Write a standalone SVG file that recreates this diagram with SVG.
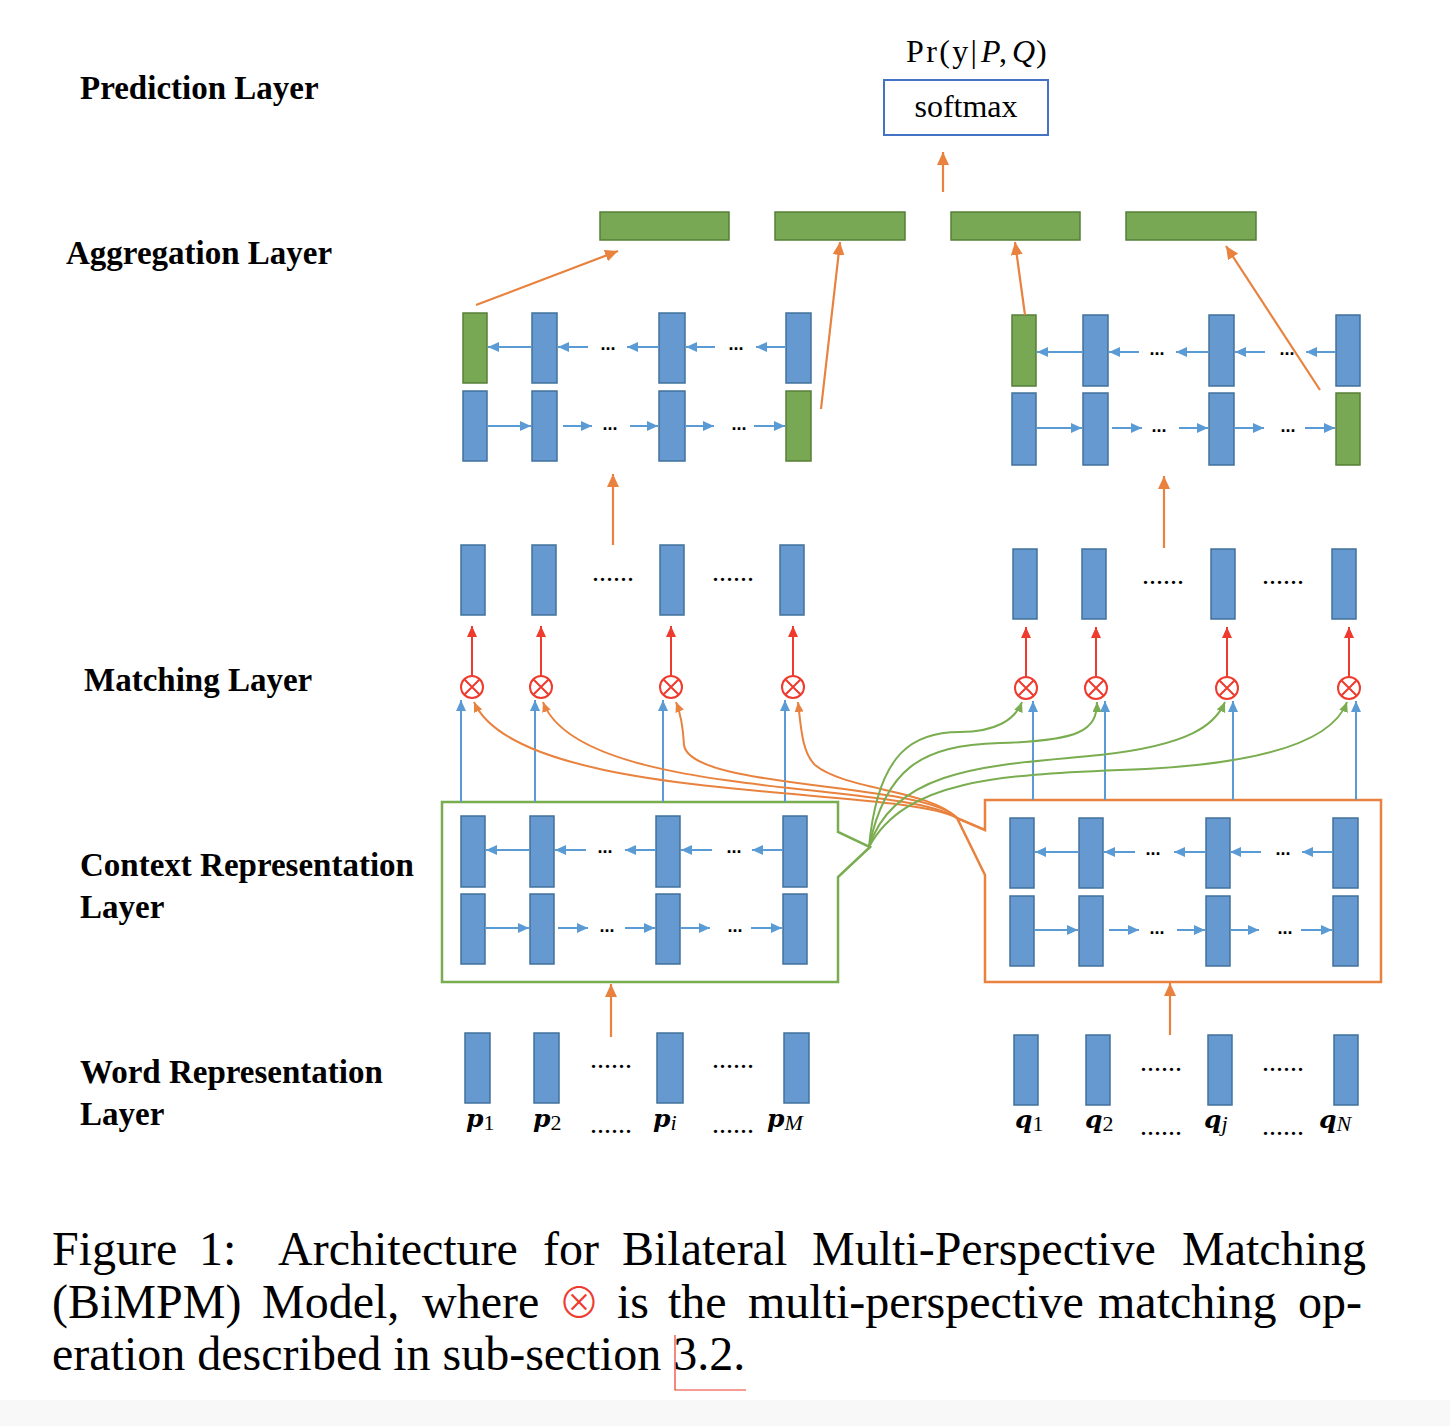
<svg xmlns="http://www.w3.org/2000/svg" width="1450" height="1426" viewBox="0 0 1450 1426">
<style>
.lbl{font-family:"Liberation Serif",serif;font-weight:bold;font-size:33px;fill:#000}
.cap{font-family:"Liberation Serif",serif;font-size:48px;fill:#000}
.tx{font-family:"Liberation Serif",serif;font-size:32px;fill:#000}
.bb{fill:#6699cf;stroke:#41719c;stroke-width:1.5}
.gb{fill:#79a854;stroke:#557f37;stroke-width:1.5}
.ba{stroke:#5b9bd5;stroke-width:2;fill:none;marker-end:url(#mb)}
.oa{stroke:#e8823e;stroke-width:2.2;fill:none;marker-end:url(#mo)}
.oc{stroke:#e8823e;stroke-width:2;fill:none;marker-end:url(#mos)}
.gc{stroke:#79ad4f;stroke-width:2;fill:none;marker-end:url(#mgs)}
.ra{stroke:#ee3b2e;stroke-width:2;fill:none;marker-end:url(#mr)}
.op circle{fill:#fff;stroke:#ee3b2e;stroke-width:2}
.op path{stroke:#ee3b2e;stroke-width:2;fill:none}
.d3{font-family:"Liberation Sans",sans-serif;font-weight:bold;font-size:18px;fill:#000;text-anchor:middle}
.d6{font-family:"Liberation Serif",serif;font-size:28px;fill:#000}
.pv{font-family:"DejaVu Serif",serif;font-weight:bold;font-style:italic;font-size:25px;fill:#000}
.sb{font-family:"Liberation Serif",serif;font-size:22px;font-weight:normal;font-style:normal}
.si{font-family:"Liberation Serif",serif;font-size:22px;font-weight:normal;font-style:italic}
</style>
<defs>
<marker id="mb" markerUnits="userSpaceOnUse" markerWidth="11" markerHeight="10" refX="11" refY="5" orient="auto"><path d="M0,0 L11,5 L0,10 z" fill="#5b9bd5"/></marker>
<marker id="mo" markerUnits="userSpaceOnUse" markerWidth="13" markerHeight="12" refX="13" refY="6" orient="auto"><path d="M0,0 L13,6 L0,12 z" fill="#e8823e"/></marker>
<marker id="mos" markerUnits="userSpaceOnUse" markerWidth="10" markerHeight="9" refX="10" refY="4.5" orient="auto"><path d="M0,0 L10,4.5 L0,9 z" fill="#e8823e"/></marker>
<marker id="mgs" markerUnits="userSpaceOnUse" markerWidth="10" markerHeight="9" refX="10" refY="4.5" orient="auto"><path d="M0,0 L10,4.5 L0,9 z" fill="#79ad4f"/></marker>
<marker id="mr" markerUnits="userSpaceOnUse" markerWidth="11" markerHeight="10" refX="11" refY="5" orient="auto"><path d="M0,0 L11,5 L0,10 z" fill="#ee3b2e"/></marker>
</defs>
<rect width="1450" height="1426" fill="#fff"/>
<rect x="0" y="1400" width="1450" height="26" fill="#f8f8f8"/>

<g id="layer-labels">
<text class="lbl" x="80" y="99">Prediction Layer</text>
<text class="lbl" x="66" y="264">Aggregation Layer</text>
<text class="lbl" x="84" y="691">Matching Layer</text>
<text class="lbl" x="80" y="876">Context Representation</text>
<text class="lbl" x="80" y="918">Layer</text>
<text class="lbl" x="80" y="1083">Word Representation</text>
<text class="lbl" x="80" y="1125">Layer</text>
</g>

<g id="prediction">
<text class="tx" x="906" y="62"><tspan textLength="71" lengthAdjust="spacing">Pr(y|</tspan><tspan x="981" font-style="italic">P</tspan><tspan x="999">,</tspan><tspan x="1012" font-style="italic">Q</tspan><tspan x="1036">)</tspan></text>
<rect x="884" y="80" width="164" height="55" fill="#fff" stroke="#4472c4" stroke-width="2"/>
<text class="tx" x="966" y="117" text-anchor="middle">softmax</text>
</g>

<g id="aggregation-bars">
<rect class="gb" x="600" y="212" width="129" height="28"/>
<rect class="gb" x="775" y="212" width="130" height="28"/>
<rect class="gb" x="951" y="212" width="129" height="28"/>
<rect class="gb" x="1126" y="212" width="130" height="28"/>
</g>

<g id="agg-p">
<rect class="gb" x="463" y="313" width="24" height="70"/>
<rect class="bb" x="532" y="313" width="25" height="70"/>
<rect class="bb" x="659" y="313" width="26" height="70"/>
<rect class="bb" x="786" y="313" width="25" height="70"/>
<rect class="bb" x="463" y="391" width="24" height="70"/>
<rect class="bb" x="532" y="391" width="25" height="70"/>
<rect class="bb" x="659" y="391" width="26" height="70"/>
<rect class="gb" x="786" y="391" width="25" height="70"/>
<line class="ba" x1="532" y1="347" x2="488" y2="347"/>
<line class="ba" x1="588" y1="347" x2="558" y2="347"/>
<line class="ba" x1="659" y1="347" x2="627" y2="347"/>
<line class="ba" x1="715" y1="347" x2="686" y2="347"/>
<line class="ba" x1="786" y1="347" x2="756" y2="347"/>
<text class="d3" x="608" y="350">...</text>
<text class="d3" x="736" y="350">...</text>
<line class="ba" x1="487" y1="426" x2="531" y2="426"/>
<line class="ba" x1="563" y1="426" x2="592" y2="426"/>
<line class="ba" x1="630" y1="426" x2="658" y2="426"/>
<line class="ba" x1="685" y1="426" x2="714" y2="426"/>
<line class="ba" x1="754" y1="426" x2="785" y2="426"/>
<text class="d3" x="610" y="430">...</text>
<text class="d3" x="739" y="430">...</text>
</g>

<g id="agg-q">
<rect class="gb" x="1012" y="315" width="24" height="71"/>
<rect class="bb" x="1083" y="315" width="25" height="71"/>
<rect class="bb" x="1209" y="315" width="25" height="71"/>
<rect class="bb" x="1336" y="315" width="24" height="71"/>
<rect class="bb" x="1012" y="393" width="24" height="72"/>
<rect class="bb" x="1083" y="393" width="25" height="72"/>
<rect class="bb" x="1209" y="393" width="25" height="72"/>
<rect class="gb" x="1336" y="393" width="24" height="72"/>
<line class="ba" x1="1083" y1="352" x2="1037" y2="352"/>
<line class="ba" x1="1139" y1="352" x2="1109" y2="352"/>
<line class="ba" x1="1209" y1="352" x2="1176" y2="352"/>
<line class="ba" x1="1265" y1="352" x2="1235" y2="352"/>
<line class="ba" x1="1336" y1="352" x2="1306" y2="352"/>
<text class="d3" x="1157" y="355">...</text>
<text class="d3" x="1287" y="355">...</text>
<line class="ba" x1="1036" y1="428" x2="1082" y2="428"/>
<line class="ba" x1="1112" y1="428" x2="1142" y2="428"/>
<line class="ba" x1="1179" y1="428" x2="1208" y2="428"/>
<line class="ba" x1="1234" y1="428" x2="1264" y2="428"/>
<line class="ba" x1="1305" y1="428" x2="1335" y2="428"/>
<text class="d3" x="1159" y="432">...</text>
<text class="d3" x="1288" y="432">...</text>
</g>

<g id="match-out-p">
<rect class="bb" x="461" y="545" width="24" height="70"/>
<rect class="bb" x="532" y="545" width="24" height="70"/>
<rect class="bb" x="660" y="545" width="24" height="70"/>
<rect class="bb" x="780" y="545" width="24" height="70"/>
<text class="d6" x="592" y="581">......</text>
<text class="d6" x="712" y="581">......</text>
</g>

<g id="match-out-q">
<rect class="bb" x="1013" y="549" width="24" height="70"/>
<rect class="bb" x="1082" y="549" width="24" height="70"/>
<rect class="bb" x="1211" y="549" width="24" height="70"/>
<rect class="bb" x="1332" y="549" width="24" height="70"/>
<text class="d6" x="1142" y="584">......</text>
<text class="d6" x="1262" y="584">......</text>
</g>

<g id="match-ops" class="op">
<circle cx="472" cy="687" r="11"/><path d="M464.5,679.5 L479.5,694.5 M479.5,679.5 L464.5,694.5"/>
<circle cx="541" cy="687" r="11"/><path d="M533.5,679.5 L548.5,694.5 M548.5,679.5 L533.5,694.5"/>
<circle cx="671" cy="687" r="11"/><path d="M663.5,679.5 L678.5,694.5 M678.5,679.5 L663.5,694.5"/>
<circle cx="793" cy="687" r="11"/><path d="M785.5,679.5 L800.5,694.5 M800.5,679.5 L785.5,694.5"/>
<circle cx="1026" cy="688" r="11"/><path d="M1018.5,680.5 L1033.5,695.5 M1033.5,680.5 L1018.5,695.5"/>
<circle cx="1096" cy="688" r="11"/><path d="M1088.5,680.5 L1103.5,695.5 M1103.5,680.5 L1088.5,695.5"/>
<circle cx="1227" cy="688" r="11"/><path d="M1219.5,680.5 L1234.5,695.5 M1234.5,680.5 L1219.5,695.5"/>
<circle cx="1349" cy="688" r="11"/><path d="M1341.5,680.5 L1356.5,695.5 M1356.5,680.5 L1341.5,695.5"/>
</g>

<g id="ctx-p">
<path d="M442,802 H838 V832 L870,847 L838,877 V982 H442 Z" fill="none" stroke="#79ad4f" stroke-width="2.5"/>
<rect class="bb" x="461" y="816" width="24" height="71"/>
<rect class="bb" x="530" y="816" width="24" height="71"/>
<rect class="bb" x="656" y="816" width="24" height="71"/>
<rect class="bb" x="783" y="816" width="24" height="71"/>
<rect class="bb" x="461" y="894" width="24" height="70"/>
<rect class="bb" x="530" y="894" width="24" height="70"/>
<rect class="bb" x="656" y="894" width="24" height="70"/>
<rect class="bb" x="783" y="894" width="24" height="70"/>
<line class="ba" x1="530" y1="850" x2="486" y2="850"/>
<line class="ba" x1="586" y1="850" x2="555" y2="850"/>
<line class="ba" x1="656" y1="850" x2="625" y2="850"/>
<line class="ba" x1="712" y1="850" x2="681" y2="850"/>
<line class="ba" x1="783" y1="850" x2="752" y2="850"/>
<text class="d3" x="605" y="853">...</text>
<text class="d3" x="734" y="853">...</text>
<line class="ba" x1="485" y1="928" x2="529" y2="928"/>
<line class="ba" x1="558" y1="928" x2="588" y2="928"/>
<line class="ba" x1="625" y1="928" x2="655" y2="928"/>
<line class="ba" x1="680" y1="928" x2="710" y2="928"/>
<line class="ba" x1="751" y1="928" x2="782" y2="928"/>
<text class="d3" x="607" y="932">...</text>
<text class="d3" x="735" y="932">...</text>
</g>

<g id="ctx-q">
<path d="M985,800 H1381 V982 H985 V875 L957,818 L985,830 Z" fill="none" stroke="#e8823e" stroke-width="2.5"/>
<rect class="bb" x="1010" y="818" width="24" height="70"/>
<rect class="bb" x="1079" y="818" width="24" height="70"/>
<rect class="bb" x="1206" y="818" width="24" height="70"/>
<rect class="bb" x="1333" y="818" width="25" height="70"/>
<rect class="bb" x="1010" y="896" width="24" height="70"/>
<rect class="bb" x="1079" y="896" width="24" height="70"/>
<rect class="bb" x="1206" y="896" width="24" height="70"/>
<rect class="bb" x="1333" y="896" width="25" height="70"/>
<line class="ba" x1="1079" y1="852" x2="1035" y2="852"/>
<line class="ba" x1="1135" y1="852" x2="1104" y2="852"/>
<line class="ba" x1="1206" y1="852" x2="1174" y2="852"/>
<line class="ba" x1="1261" y1="852" x2="1230" y2="852"/>
<line class="ba" x1="1333" y1="852" x2="1302" y2="852"/>
<text class="d3" x="1153" y="855">...</text>
<text class="d3" x="1283" y="855">...</text>
<line class="ba" x1="1034" y1="930" x2="1078" y2="930"/>
<line class="ba" x1="1109" y1="930" x2="1139" y2="930"/>
<line class="ba" x1="1177" y1="930" x2="1205" y2="930"/>
<line class="ba" x1="1230" y1="930" x2="1259" y2="930"/>
<line class="ba" x1="1301" y1="930" x2="1332" y2="930"/>
<text class="d3" x="1157" y="934">...</text>
<text class="d3" x="1285" y="934">...</text>
</g>

<g id="word-p">
<rect class="bb" x="465" y="1033" width="25" height="70"/>
<rect class="bb" x="534" y="1033" width="25" height="70"/>
<rect class="bb" x="657" y="1033" width="26" height="70"/>
<rect class="bb" x="784" y="1033" width="25" height="70"/>
<text class="d6" x="590" y="1068">......</text>
<text class="d6" x="712" y="1068">......</text>
<text class="pv" x="466" y="1127">p<tspan class="sb" dy="3">1</tspan></text>
<text class="pv" x="533" y="1127">p<tspan class="sb" dy="3">2</tspan></text>
<text class="d6" x="590" y="1133">......</text>
<text class="pv" x="653" y="1127">p<tspan class="si" dy="3">i</tspan></text>
<text class="d6" x="712" y="1133">......</text>
<text class="pv" x="767" y="1127">p<tspan class="si" dy="3">M</tspan></text>
</g>

<g id="word-q">
<rect class="bb" x="1014" y="1035" width="24" height="70"/>
<rect class="bb" x="1086" y="1035" width="24" height="70"/>
<rect class="bb" x="1208" y="1035" width="24" height="70"/>
<rect class="bb" x="1334" y="1035" width="24" height="70"/>
<text class="d6" x="1140" y="1071">......</text>
<text class="d6" x="1262" y="1071">......</text>
<text class="pv" x="1015" y="1128">q<tspan class="sb" dy="3">1</tspan></text>
<text class="pv" x="1085" y="1128">q<tspan class="sb" dy="3">2</tspan></text>
<text class="d6" x="1140" y="1135">......</text>
<text class="pv" x="1204" y="1128">q<tspan class="si" dy="3">j</tspan></text>
<text class="d6" x="1262" y="1135">......</text>
<text class="pv" x="1319" y="1128">q<tspan class="si" dy="3">N</tspan></text>
</g>

<g id="connectors">
<line class="oa" x1="943" y1="192" x2="943" y2="152"/>
<line class="oa" x1="476" y1="305" x2="618" y2="251"/>
<line class="oa" x1="821" y1="409" x2="840" y2="242"/>
<line class="oa" x1="1025" y1="315" x2="1015" y2="242"/>
<line class="oa" x1="1320" y1="390" x2="1226" y2="246"/>
<line class="oa" x1="613" y1="545" x2="613" y2="474"/>
<line class="oa" x1="1164" y1="548" x2="1164" y2="476"/>
<line class="oa" x1="611" y1="1037" x2="611" y2="984"/>
<line class="oa" x1="1170" y1="1035" x2="1170" y2="983"/>
<line class="ra" x1="472" y1="676" x2="472" y2="626"/>
<line class="ra" x1="541" y1="676" x2="541" y2="626"/>
<line class="ra" x1="671" y1="676" x2="671" y2="626"/>
<line class="ra" x1="793" y1="676" x2="793" y2="626"/>
<line class="ra" x1="1026" y1="677" x2="1026" y2="627"/>
<line class="ra" x1="1096" y1="677" x2="1096" y2="627"/>
<line class="ra" x1="1227" y1="677" x2="1227" y2="627"/>
<line class="ra" x1="1349" y1="677" x2="1349" y2="627"/>
<line class="ba" x1="461" y1="802" x2="461" y2="700"/>
<line class="ba" x1="535" y1="802" x2="535" y2="700"/>
<line class="ba" x1="663" y1="802" x2="663" y2="700"/>
<line class="ba" x1="785" y1="802" x2="785" y2="700"/>
<line class="ba" x1="1033" y1="800" x2="1033" y2="701"/>
<line class="ba" x1="1105" y1="800" x2="1105" y2="701"/>
<line class="ba" x1="1233" y1="800" x2="1233" y2="701"/>
<line class="ba" x1="1356" y1="800" x2="1356" y2="701"/>
<path class="oc" d="M957,818 C900,785 520,805 474,702"/>
<path class="oc" d="M957,818 C900,780 580,800 543,702"/>
<path class="oc" d="M957,818 C925,782 690,790 684,745 C683,725 680,712 676,702"/>
<path class="oc" d="M957,818 C930,790 845,790 815,765 C802,752 801,728 798,702"/>
<path class="gc" d="M869,847 C878,750 915,732 960,732 C995,732 1015,720 1022,702"/>
<path class="gc" d="M869,847 C885,770 920,745 1000,743 C1080,741 1097,730 1097,702"/>
<path class="gc" d="M869,847 C895,765 1000,765 1100,755 C1190,745 1215,725 1225,702"/>
<path class="gc" d="M869,847 C905,780 1000,775 1120,770 C1280,765 1335,735 1347,702"/>
</g>

<g id="caption">
<text class="cap" y="1265"><tspan x="52">Figure</tspan><tspan x="199">1:</tspan><tspan x="278">Architecture</tspan><tspan x="543">for</tspan><tspan x="622">Bilateral</tspan><tspan x="812">Multi-Perspective</tspan><tspan x="1182">Matching</tspan></text>
<text class="cap" y="1318"><tspan x="52">(BiMPM)</tspan><tspan x="262">Model,</tspan><tspan x="422">where</tspan><tspan x="558" fill="#ee3b2e" font-family="Noto Sans CJK JP, DejaVu Sans, sans-serif" font-weight="300" font-size="42">⊗</tspan><tspan x="617">is</tspan><tspan x="668">the</tspan><tspan x="748">multi-perspective</tspan><tspan x="1098">matching</tspan><tspan x="1298">op-</tspan></text>
<text class="cap" x="52" y="1370">eration described in sub-section 3.2.</text>
<path d="M675,1335 V1390 H746" fill="none" stroke="#ee3b2e" stroke-width="1.2"/>
</g>
</svg>
